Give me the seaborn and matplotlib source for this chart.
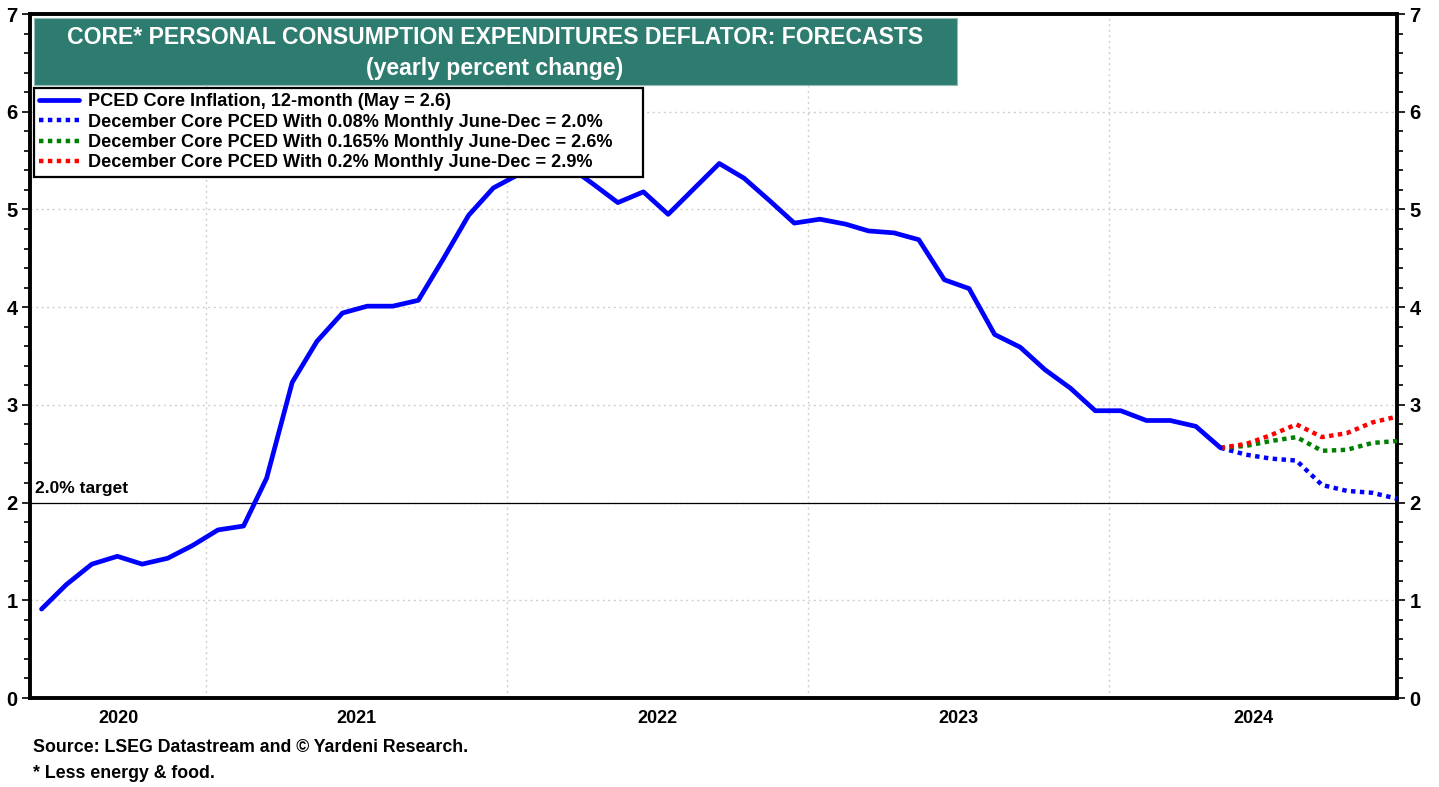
import numpy as np
import pandas as pd
import matplotlib
matplotlib.use("Agg")
import matplotlib.pyplot as plt
from matplotlib.patches import Rectangle
import seaborn as sns

# ---------------- data ----------------
hist_start = "2020-06-01"
hist_end = "2024-05-01"
pced_core = [0.91, 1.16, 1.37, 1.45, 1.37, 1.43, 1.56,
             1.72, 1.76, 2.25, 3.23, 3.65, 3.94, 4.01, 4.01, 4.07, 4.49, 4.94, 5.22,
             5.36, 5.55, 5.45, 5.26, 5.07, 5.18, 4.95, 5.21, 5.47, 5.32, 5.09, 4.86,
             4.90, 4.85, 4.78, 4.76, 4.69, 4.28, 4.19, 3.72, 3.59, 3.36, 3.17, 2.94,
             2.94, 2.84, 2.84, 2.78, 2.56]
fc_start = "2024-05-01"
fc_end = "2024-12-01"
fc_008 = [2.56, 2.49, 2.45, 2.43, 2.18, 2.12, 2.10, 2.04]
fc_0165 = [2.56, 2.58, 2.63, 2.67, 2.53, 2.54, 2.61, 2.63]
fc_02 = [2.56, 2.60, 2.69, 2.80, 2.67, 2.71, 2.82, 2.88]

labels = ["PCED Core Inflation, 12-month (May = 2.6)",
          "December Core PCED With 0.08% Monthly June-Dec = 2.0%",
          "December Core PCED With 0.165% Monthly June-Dec = 2.6%",
          "December Core PCED With 0.2% Monthly June-Dec = 2.9%"]
year_labels = ["2020", "2021", "2022", "2023", "2024"]
title1 = "CORE* PERSONAL CONSUMPTION EXPENDITURES DEFLATOR: FORECASTS"
title2 = "(yearly percent change)"
target_label = "2.0% target"
source1 = "Source: LSEG Datastream and © Yardeni Research."
source2 = "* Less energy & food."

# ---------------- frames ----------------
hist_dates = pd.date_range(hist_start, hist_end, freq="MS") + pd.Timedelta(days=14)
fc_dates = pd.date_range(fc_start, fc_end, freq="MS") + pd.Timedelta(days=14)
df_hist = pd.DataFrame({"date": hist_dates, "value": pced_core})
df_a = pd.DataFrame({"date": fc_dates, "value": fc_008})
df_b = pd.DataFrame({"date": fc_dates, "value": fc_0165})
df_c = pd.DataFrame({"date": fc_dates, "value": fc_02})

sns.set_style("white")
plt.rcParams["font.family"] = ["Liberation Sans", "DejaVu Sans"]
plt.rcParams["font.weight"] = "bold"
plt.rcParams["text.color"] = "black"
plt.rcParams["xtick.color"] = "black"
plt.rcParams["ytick.color"] = "black"
plt.rcParams["xtick.labelcolor"] = "black"
plt.rcParams["ytick.labelcolor"] = "black"

W, H = 1439, 787
fig = plt.figure(figsize=(W / 100, H / 100), dpi=100)
L, R, T, B = 30, 1397, 14, 698
ax = fig.add_axes([L / W, 1 - B / H, (R - L) / W, (B - T) / H])

sns.lineplot(data=df_a, x="date", y="value", ax=ax, color="#0000FF", lw=3.2,
             linestyle=(0, (1, 1)), label=labels[1], zorder=3)
sns.lineplot(data=df_b, x="date", y="value", ax=ax, color="#008000", lw=3.2,
             linestyle=(0, (1, 1)), label=labels[2], zorder=3)
sns.lineplot(data=df_c, x="date", y="value", ax=ax, color="#FF0000", lw=3.2,
             linestyle=(0, (1, 1)), label=labels[3], zorder=3)
sns.lineplot(data=df_hist, x="date", y="value", ax=ax, color="#0000FF", lw=3.4,
             label=labels[0], zorder=4)

xmin = pd.Timestamp("2020-06-01")
xmax = pd.Timestamp("2024-12-15")
ax.set_xlim(xmin, xmax)
ax.set_ylim(0, 7)

# target line
ax.axhline(2.0, color="black", lw=0.9, zorder=2)
ax.text(xmin + pd.Timedelta(days=6), 2.07, target_label, fontsize=12.5, fontweight="bold",
        color="black", ha="left", va="bottom", zorder=5)

# grid
for v in range(1, 7):
    ax.axhline(v, color="#cfcfcf", lw=1.0, linestyle=(0, (1.5, 2.5)), zorder=1)
years = [pd.Timestamp(f"{y}-01-01") for y in range(2021, 2025)]
for d in years:
    ax.axvline(d, color="#cfcfcf", lw=1.0, linestyle=(0, (1.5, 2.5)), zorder=1)

# ticks
ax.set_yticks(range(0, 8))
ax.set_yticks(np.arange(0, 7.01, 0.2), minor=True)
ax.tick_params(axis="y", which="both", left=True, right=True, labelleft=True,
               labelright=True, direction="out", width=1.2, colors="black")
ax.tick_params(axis="y", which="major", length=6, labelsize=14.5, pad=3)
ax.tick_params(axis="y", which="minor", length=4)
for lab in ax.get_yticklabels():
    lab.set_fontweight("bold")

ax.set_xticks(years)
ax.set_xticks(pd.date_range("2020-07-01", "2024-12-01", freq="QS"), minor=True)
ax.tick_params(axis="x", which="major", length=8, width=1.2, direction="out",
               labelbottom=False, colors="black")
ax.tick_params(axis="x", which="minor", length=4, width=1.2, direction="out", colors="black")
ax.set_xlabel("")
ax.set_ylabel("")

# year labels centred in visible part of each year
bounds = [xmin] + years + [xmax]
for i, yl in enumerate(year_labels):
    a, b = bounds[i], bounds[i + 1]
    c = a + (b - a) / 2
    ax.text(c, -0.018, yl, transform=ax.get_xaxis_transform(), ha="center", va="top",
            fontsize=13, fontweight="bold", color="black")

for s in ax.spines.values():
    s.set_linewidth(2.8)
    s.set_color("black")

# title box
ax.add_patch(Rectangle((34 / W, 1 - 85 / H), (957 - 34) / W, 67 / H, transform=fig.transFigure,
                       facecolor="#2E7B70", edgecolor="#8fbfb6", lw=0.8, zorder=6, clip_on=False))
fig.text(495 / W, 1 - 37 / H, title1, ha="center", va="center", color="white",
         fontsize=16.6, fontweight="bold", zorder=7)
fig.text(495 / W, 1 - 68 / H, title2, ha="center", va="center", color="white",
         fontsize=16.6, fontweight="bold", zorder=7)

# legend
h, l = ax.get_legend_handles_labels()
order = [l.index(x) for x in labels]
leg = ax.legend([h[i] for i in order], [l[i] for i in order], loc="upper left",
                bbox_to_anchor=(34 / W, 1 - 178 / H, (643 - 34) / W, 90 / H),
                bbox_transform=fig.transFigure, mode="expand",
                frameon=True, fancybox=False, framealpha=1, edgecolor="black",
                prop={"weight": "bold", "size": 13.1}, handlelength=2.2,
                handletextpad=0.45, labelspacing=0.18, borderpad=0.3, borderaxespad=0,
                labelcolor="black")
leg.get_frame().set_linewidth(1.6)
leg.set_zorder(8)

fig.text(33 / W, 1 - 748 / H, source1, ha="left", va="center", fontsize=12.8,
         fontweight="bold", color="black")
fig.text(33 / W, 1 - 773 / H, source2, ha="left", va="center", fontsize=12.8,
         fontweight="bold", color="black")

fig.savefig("out.png", dpi=100)
